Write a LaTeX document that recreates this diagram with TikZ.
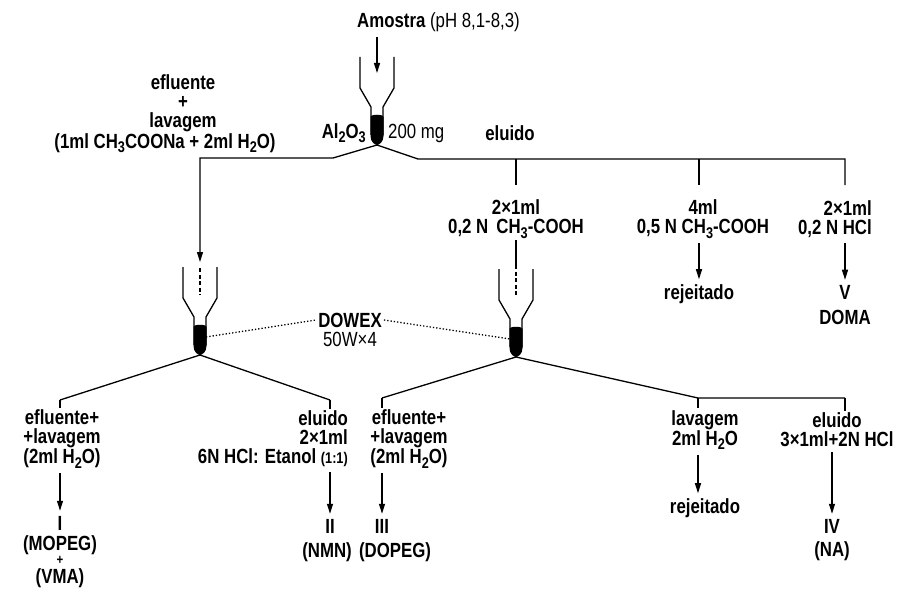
\documentclass[tikz,border=0pt]{standalone}
\usepackage{fontspec}
\setmainfont{Liberation Sans}[FakeStretch=0.82]
\usetikzlibrary{arrows.meta,positioning}
\newcommand{\low}[1]{\raisebox{-0.4ex}{\fontsize{15.5}{15.5}\selectfont#1}}

\begin{document}
\begin{tikzpicture}[
  x=1pt, y=-1pt,
  lbl/.style={font=\fontsize{20.5}{19}\selectfont\bfseries, align=center, inner sep=2pt},
  pipe/.style={line width=1.3pt},
  arr/.style={line width=1.3pt, -{Triangle[length=10pt,width=6pt]}, shorten <=3pt, shorten >=3pt},
  feed/.style={line width=1.3pt, dash pattern=on 4pt off 2.5pt},
  dots/.style={line width=1.3pt, dotted},
  funnel/.pic={
    \draw[pipe] (-17,-88) -- (-17,-57) -- (-6,-38) -- (-6,-10);
    \draw[pipe] (17,-88) -- (17,-57) -- (6,-38) -- (6,-10);
    \fill (-6.5,-28) -- (-6.5,-9) .. controls (-6.5,-3) and (-2,0) .. (0,0)
      .. controls (2,0) and (6.5,-3) .. (6.5,-9) -- (6.5,-28)
      .. controls (6.5,-31) and (-6.5,-31) .. cycle;
    \coordinate (-tip) at (0,0);
    \coordinate (-in) at (0,-60);
    \coordinate (-l) at (-6,-18);
    \coordinate (-r) at (6,-18);
  }
]
\useasboundingbox (0,0) rectangle (902,591);

% Al2O3 column
\node[lbl, anchor=west] (amostra) at (355,22) {Amostra {\mdseries(pH 8,1-8,3)}};
\coordinate (feed) at (377,73);
\pic (al) at (377,145) {funnel};
\node[lbl, anchor=east] (alox) at (368,133) {Al\low{2}O\low{3}};
\node[lbl, anchor=west] (mass) at (386,133) {\mdseries 200 mg};
\node[lbl] (efl) at (183,103) {efluente\\+\\lavagem};
\node[lbl] (eflsol) at (165,143) {(1ml CH\low{3}COONa + 2ml H\low{2}O)};
\node[lbl] (elu) at (510,133) {eluido};
\draw[arr, shorten >=0pt] (amostra.south -| feed) -- (feed);

\coordinate (kl) at (333,158);
\coordinate (kr) at (418,159);
\coordinate (inA) at (200,262);
\coordinate (t1) at (516,185);
\coordinate (t2) at (699,185);
\coordinate (t3) at (845,185);
\draw[pipe] (al-tip) -- (kr) -| (t3);
\draw[pipe] (t1 |- kr) -- (t1);
\draw[pipe] (t2 |- kr) -- (t2);
\draw[arr, shorten <=0pt, shorten >=0pt] (al-tip) -- (kl) -| (inA);

\node[lbl] (n1) at (516,219) {2×1ml\\0,2 N\, CH\low{3}-COOH};
\node[lbl] (n2) at (703,219) {4ml\\0,5 N CH\low{3}-COOH};
\node[lbl, align=right, anchor=east] (n3) at (874,219) {2×1ml\\0,2 N HCl};
\node[lbl] (rej1) at (699,294) {rejeitado};
\node[lbl] (v) at (845,292) {V};
\node[lbl] (doma) at (845,317) {DOMA};
\draw[arr] (t2 |- n2.south) -- (t2 |- rej1.north);
\draw[arr] (t3 |- n3.south) -- (v);

% DOWEX columns
\pic (dwA) at (200,355) {funnel};
\pic (dwB) at (516,357) {funnel};
\coordinate (inB) at (516,265);
\draw[feed, shorten <=6pt] (inA) -- (dwA-in);
\draw[pipe] (n1) -- (inB);
\draw[feed] (inB) -- (dwB-in);
\node[lbl] (dowex) at (350,320) {DOWEX};
\node[lbl] (resin) at (350,339) {\mdseries 50W×4};
\draw[dots] (dwA-r) -- (dowex.west);
\draw[dots] (dowex.east) -- (dwB-l);

\coordinate (ba) at (60,400);
\coordinate (bb) at (330,400);
\coordinate (bc) at (382,398);
\coordinate (bd) at (698,398);
\coordinate (be) at (845,398);
\draw[pipe] (ba) -- (dwA-tip) -- (bb);
\draw[pipe] (bc) -- (dwB-tip) -- (bd) -- (be);

\node[lbl] (b1) at (62,439) {efluente+\\+lavagem\\(2ml H\low{2}O)};
\node[lbl, align=right, anchor=east] (b2) at (350,439) {eluido\\2×1ml\\6N HCl: Etanol {\fontsize{15.5}{19}\selectfont(1:1)}};
\node[lbl] (b3) at (409,439) {efluente+\\+lavagem\\(2ml H\low{2}O)};
\node[lbl] (b4) at (705,430) {lavagem\\2ml H\low{2}O};
\node[lbl] (b5) at (837,430) {eluido\\3×1ml+2N HCl};
\draw[pipe] (ba) -- (ba |- b1.north);
\draw[pipe] (bb) -- (bb |- b2.north);
\draw[pipe] (bc) -- (bc |- b3.north);
\draw[pipe] (bd) -- (bd |- b4.north);
\draw[pipe] (be) -- (be |- b5.north);

% fractions
\node[lbl] (r1) at (60,523) {I};
\node[lbl, inner sep=0pt] (p1) at (60,545) {(MOPEG)};
\node[lbl, inner sep=0pt, font=\fontsize{14}{14}\selectfont\bfseries] (plus) at (60,560) {+};
\node[lbl, inner sep=0pt] (p1b) at (60,578) {(VMA)};
\node[lbl] (r2) at (330,526) {II};
\node[lbl] (p2) at (327,552) {(NMN)};
\node[lbl] (r3) at (382,526) {III};
\node[lbl] (p3) at (395,552) {(DOPEG)};
\node[lbl] (rej2) at (705,508) {rejeitado};
\node[lbl] (r4) at (832,526) {IV};
\node[lbl] (p4) at (832,551) {(NA)};
\draw[arr] (b1.south -| r1) -- (r1);
\draw[arr] (bb |- b2.south) -- (r2);
\draw[arr] (bc |- b3.south) -- (r3);
\draw[arr] (bd |- b4.south) -- (bd |- rej2.north);
\draw[arr] (r4 |- b5.south) -- (r4);
\end{tikzpicture}
\end{document}
